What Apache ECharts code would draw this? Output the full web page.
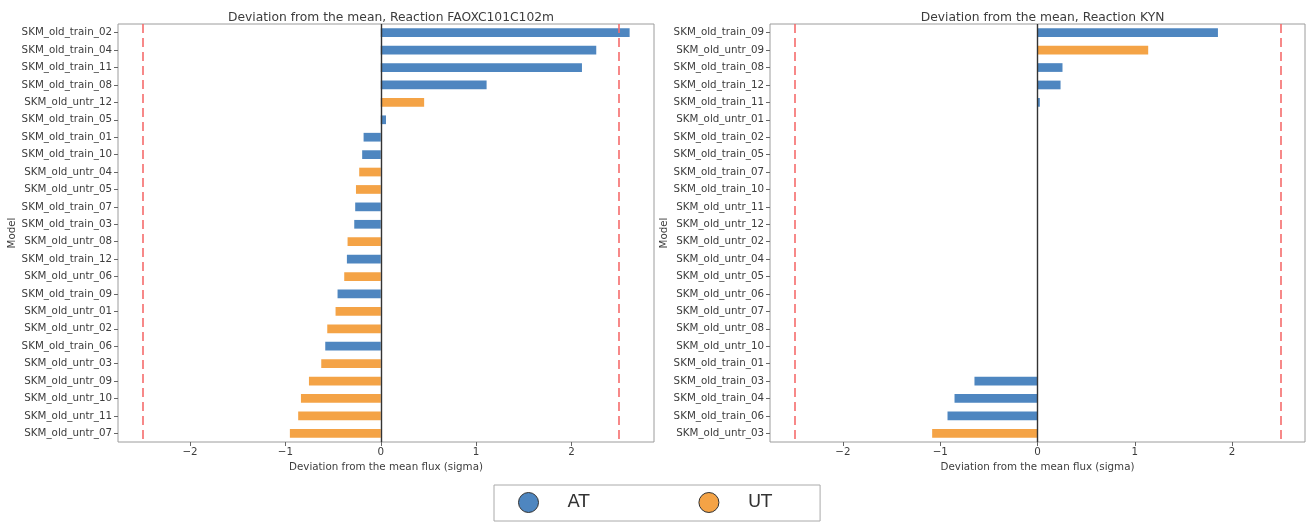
<!DOCTYPE html>
<html>
<head>
<meta charset="utf-8">
<script src="https://cdn.jsdelivr.net/npm/echarts@6/dist/echarts.min.js"></script>
<style>
  html, body { margin: 0; padding: 0; background: #fff; }
  #chart { width: 1306px; height: 523px; }
</style>
</head>
<body>
<div id="chart"></div>
<script>
// Deviation of each model's flux from the mean (in sigma), two reactions
const leftTitle = 'Deviation from the mean, Reaction FAOXC101C102m';
const leftModels = [
  'SKM_old_train_02', 'SKM_old_train_04', 'SKM_old_train_11', 'SKM_old_train_08',
  'SKM_old_untr_12', 'SKM_old_train_05', 'SKM_old_train_01', 'SKM_old_train_10',
  'SKM_old_untr_04', 'SKM_old_untr_05', 'SKM_old_train_07', 'SKM_old_train_03',
  'SKM_old_untr_08', 'SKM_old_train_12', 'SKM_old_untr_06', 'SKM_old_train_09',
  'SKM_old_untr_01', 'SKM_old_untr_02', 'SKM_old_train_06', 'SKM_old_untr_03',
  'SKM_old_untr_09', 'SKM_old_untr_10', 'SKM_old_untr_11', 'SKM_old_untr_07'
];
const leftDev = [
  2.61, 2.26, 2.11, 1.11, 0.455, 0.055, -0.18, -0.195,
  -0.226, -0.26, -0.268, -0.278, -0.348, -0.355, -0.383, -0.453,
  -0.474, -0.561, -0.582, -0.624, -0.753, -0.837, -0.866, -0.953
];

const rightTitle = 'Deviation from the mean, Reaction KYN';
const rightModels = [
  'SKM_old_train_09', 'SKM_old_untr_09', 'SKM_old_train_08', 'SKM_old_train_12',
  'SKM_old_train_11', 'SKM_old_untr_01', 'SKM_old_train_02', 'SKM_old_train_05',
  'SKM_old_train_07', 'SKM_old_train_10', 'SKM_old_untr_11', 'SKM_old_untr_12',
  'SKM_old_untr_02', 'SKM_old_untr_04', 'SKM_old_untr_05', 'SKM_old_untr_06',
  'SKM_old_untr_07', 'SKM_old_untr_08', 'SKM_old_untr_10', 'SKM_old_train_01',
  'SKM_old_train_03', 'SKM_old_train_04', 'SKM_old_train_06', 'SKM_old_untr_03'
];
const rightDev = [
  1.855, 1.138, 0.257, 0.237, 0.024, 0, 0, 0,
  0, 0, 0, 0, 0, 0, 0, 0,
  0, 0, 0, 0, -0.648, -0.853, -0.925, -1.083
];

const xTicks = [-2, -1, 0, 1, 2];
const sigmaLimits = [-2.5, 2.5];
const groups = ['AT', 'UT'];
const groupColors = { AT: '#4e86c0', UT: '#f4a346' };

const FONT = 'DejaVu Sans';
const TEXT = '#3c3c3c';
const FS = 10.3;

// "train" models are AT, "untr" models are UT
const groupOf = name => (name.indexOf('_train_') >= 0 ? 'AT' : 'UT');

// axis limits: data plus the sigma limits, padded by 5%
function axisRange(values) {
  const lo = Math.min(Math.min(...values), sigmaLimits[0]);
  const hi = Math.max(Math.max(...values), sigmaLimits[1]);
  const pad = 0.05 * (hi - lo);
  return [lo - pad, hi + pad];
}

const minus = v => String(v).replace('-', '\u2212');

function panel(idx, title, models, values) {
  const range = axisRange(values);
  const grid = {
    left: idx === 0 ? 118 : 770, top: 24, width: idx === 0 ? 536 : 535, height: 418,
    show: true, borderColor: '#9c9c9c', borderWidth: 1, backgroundColor: 'transparent'
  };
  const xAxis = {
    type: 'value', gridIndex: idx, min: range[0], max: range[1],
    splitLine: { show: false }, axisLine: { show: false, onZero: false },
    axisTick: { show: true, customValues: xTicks, length: 4, lineStyle: { color: '#666' } },
    axisLabel: { customValues: xTicks, formatter: minus, margin: 5, fontSize: FS, color: TEXT, fontFamily: FONT },
    name: 'Deviation from the mean flux (sigma)', nameLocation: 'middle', nameGap: 10,
    nameTextStyle: { fontSize: FS, color: TEXT, fontFamily: FONT }
  };
  const yAxis = {
    type: 'category', gridIndex: idx, data: models, inverse: true,
    axisLine: { show: false, onZero: false },
    axisTick: { show: true, alignWithLabel: true, length: 4, lineStyle: { color: '#666' } },
    axisLabel: { margin: 6, fontSize: FS, color: TEXT, fontFamily: FONT, interval: 0 },
    splitLine: { show: false },
    name: 'Model', nameLocation: 'middle', nameGap: 83, nameRotate: 90,
    nameTextStyle: { fontSize: FS, color: TEXT, fontFamily: FONT }
  };
  const series = groups.map((g, k) => {
    const s = {
      type: 'bar', name: g, xAxisIndex: idx, yAxisIndex: idx, stack: 'p' + idx,
      barWidth: '50%', itemStyle: { color: groupColors[g] },
      data: values.map((v, i) => (groupOf(models[i]) === g ? v : '-'))
    };
    if (k === 0) {
      s.markLine = {
        silent: true, symbol: 'none', label: { show: false }, animation: false,
        data: sigmaLimits.map(x => ({
          xAxis: x, lineStyle: { color: '#f56c6c', type: [9, 5], width: 1.6 }
        })).concat([{ xAxis: 0, lineStyle: { color: '#333', type: 'solid', width: 1.4 } }])
      };
    }
    return s;
  });
  const titleObj = {
    text: title, left: grid.left + grid.width / 2, top: 7, textAlign: 'center',
    textStyle: { fontSize: 12.3, fontWeight: 'normal', color: TEXT, fontFamily: FONT }
  };
  return { grid, xAxis, yAxis, series, title: titleObj };
}

const L = panel(0, leftTitle, leftModels, leftDev);
const R = panel(1, rightTitle, rightModels, rightDev);

const chart = echarts.init(document.getElementById('chart'), null, { renderer: 'canvas' });
chart.setOption({
  animation: false,
  backgroundColor: '#fff',
  title: [L.title, R.title],
  grid: [L.grid, R.grid],
  xAxis: [L.xAxis, R.xAxis],
  yAxis: [L.yAxis, R.yAxis],
  legend: {
    data: groups, left: 494, top: 485, orient: 'horizontal',
    icon: 'circle', itemWidth: 20, itemHeight: 20, itemGap: 109,
    padding: [7, 48, 8, 24],
    borderColor: '#aaa', borderWidth: 1, borderRadius: 0,
    itemStyle: { borderColor: '#333', borderWidth: 1 },
    textStyle: { fontSize: 18, color: '#333', fontFamily: FONT, padding: [0, 0, 0, 24] },
    selectedMode: false
  },
  series: L.series.concat(R.series)
});
</script>
</body>
</html>
